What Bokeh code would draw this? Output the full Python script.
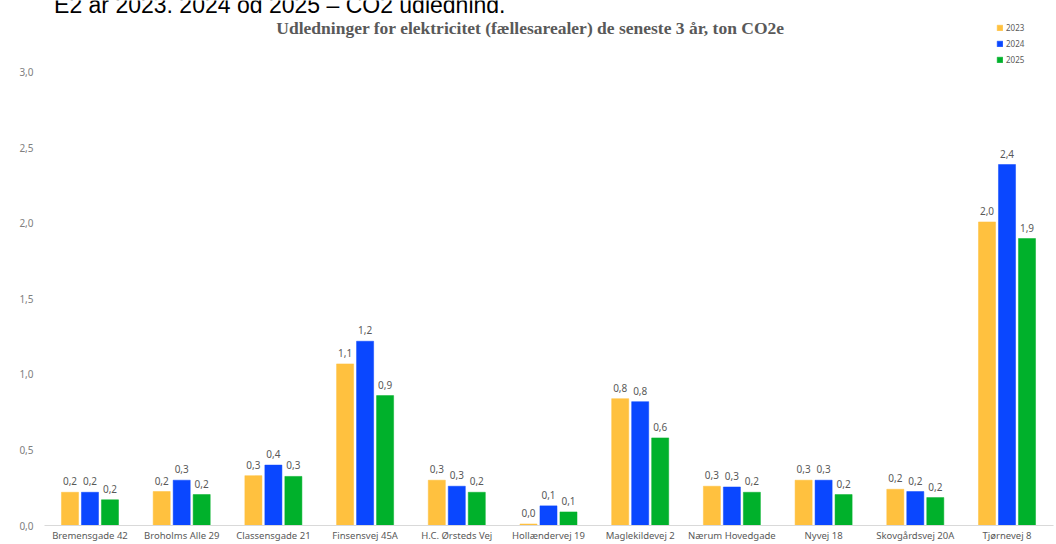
from bokeh.plotting import figure
from bokeh.layouts import column
from bokeh.models import (ColumnDataSource, Range1d, FixedTicker, CustomJSTickFormatter,
                          Legend, LegendItem, Label)
from bokeh.transform import dodge
from bokeh.core.properties import value
from bokeh.embed import file_html
from bokeh.resources import INLINE

# ---- data ----
categories = ["Bremensgade 42", "Broholms Alle 29", "Classensgade 21", "Finsensvej 45A",
              "H.C. Ørsteds Vej", "Hollændervej 19", "Maglekildevej 2", "Nærum Hovedgade",
              "Nyvej 18", "Skovgårdsvej 20A", "Tjørnevej 8"]
years = ["2023", "2024", "2025"]
v2023 = [0.22, 0.225, 0.33, 1.07, 0.30, 0.01, 0.84, 0.26, 0.30, 0.24, 2.01]
v2024 = [0.22, 0.30, 0.40, 1.22, 0.26, 0.13, 0.82, 0.255, 0.30, 0.225, 2.39]
v2025 = [0.17, 0.205, 0.325, 0.86, 0.22, 0.09, 0.58, 0.22, 0.205, 0.185, 1.90]
y_ticks = [0.0, 0.5, 1.0, 1.5, 2.0, 2.5, 3.0]
title_text = "Udledninger for elektricitet (fællesarealer) de seneste 3 år, ton CO2e"
heading_text = "E2 år 2023, 2024 og 2025 – CO2 udledning."

colors = ["#FFC13F", "#0A47FF", "#00B12B"]

def fmt(v):
    return f"{v:.1f}".replace(".", ",")

src = ColumnDataSource(dict(
    x=list(range(len(categories))),
    v2023=v2023, v2024=v2024, v2025=v2025,
    l2023=[fmt(v) for v in v2023],
    l2024=[fmt(v) for v in v2024],
    l2025=[fmt(v) for v in v2025],
))

# ---- clipped heading strip (top of the screenshot) ----
head = figure(width=1056, height=13, output_backend="svg", toolbar_location=None,
              x_range=Range1d(0, 1056), y_range=Range1d(0, 13),
              x_axis_type=None, y_axis_type=None,
              min_border_left=0, min_border_right=0, min_border_top=0, min_border_bottom=0)
head.outline_line_color = None
head.xgrid.grid_line_color = None
head.ygrid.grid_line_color = None
head.text(x=[10], y=[8.5], text=[heading_text], text_align="left",
          text_baseline="alphabetic", text_font=value("Liberation Sans"),
          text_font_size="23px", text_color="#000000")

# ---- main chart ----
p = figure(width=1056, height=531, output_backend="svg", toolbar_location=None,
           x_range=Range1d(-0.496, 10.507), y_range=Range1d(0, 3.39),
           min_border_left=44, min_border_right=3, min_border_top=0, min_border_bottom=16)
p.outline_line_color = None
p.xgrid.grid_line_color = None
p.ygrid.grid_line_color = None
p.background_fill_color = "white"

offsets = [-0.218, 0.0, 0.218]
renderers = []
for yr, off, col in zip(years, offsets, colors):
    r = p.vbar(x=dodge("x", off), top="v" + yr, width=0.186, bottom=0, source=src,
               fill_color=col, line_color=col, line_width=0.5)
    renderers.append(r)
    p.text(x=dodge("x", off), y="v" + yr, text="l" + yr, source=src,
           text_align="center", text_baseline="bottom", y_offset=-7,
           text_font=value("Noto Sans"), text_font_size="10px", text_color="#595959")

# x axis
xa = p.xaxis[0]
xa.ticker = FixedTicker(ticks=list(range(len(categories))))
xa.major_label_overrides = {i: c for i, c in enumerate(categories)}
xa.major_tick_line_color = None
xa.minor_tick_line_color = None
xa.major_tick_out = 0
xa.major_tick_in = 0
xa.minor_tick_out = 0
xa.axis_line_color = "#D9D9D9"
xa.major_label_standoff = 3
xa.major_label_text_font = "Noto Sans"
xa.major_label_text_font_size = "9.5px"
xa.major_label_text_color = "#595959"

# y axis
ya = p.yaxis[0]
ya.ticker = FixedTicker(ticks=y_ticks)
ya.formatter = CustomJSTickFormatter(code="return tick.toFixed(1).replace('.', ',');")
ya.major_tick_line_color = None
ya.minor_tick_line_color = None
ya.major_tick_out = 0
ya.major_tick_in = 0
ya.minor_tick_out = 0
ya.axis_line_color = None
ya.major_label_standoff = 11
ya.major_label_text_font = "Noto Sans"
ya.major_label_text_font_size = "10px"
ya.major_label_text_color = "#808080"

# legend
legend = Legend(items=[LegendItem(label=yr, renderers=[r]) for yr, r in zip(years, renderers)],
                location=(952, 460), orientation="vertical",
                glyph_width=7, glyph_height=7, label_height=12, spacing=4,
                label_standoff=3, padding=0, margin=0,
                label_text_font="Noto Sans", label_text_font_size="8px",
                label_text_color="#595959",
                border_line_alpha=0, background_fill_alpha=0)
p.add_layout(legend, "center")

# chart title
p.add_layout(Label(x=4.804, y=3.297, text=title_text, text_align="center",
                   text_baseline="middle", text_font="Liberation Serif",
                   text_font_style="bold", text_font_size="17.5px", text_color="#595959"))

layout = column(head, p, spacing=0)
open("out.html", "w").write(file_html(layout, INLINE))
